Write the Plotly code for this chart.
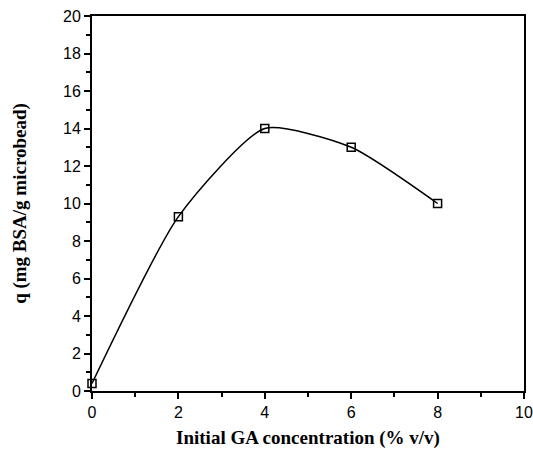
import plotly.graph_objects as go

ga_conc = [0, 2, 4, 6, 8]
q_values = [0.4, 9.3, 14.0, 13.0, 10.0]

fig = go.Figure()
fig.add_trace(go.Scatter(
    x=ga_conc, y=q_values, mode="lines+markers",
    line=dict(color="black", width=1.5, shape="spline", smoothing=0.6),
    marker=dict(symbol="square-open", size=8, color="black", line=dict(width=1.5)),
    showlegend=False, cliponaxis=False,
))

axis_common = dict(
    showline=True, linecolor="black", linewidth=2, mirror=True,
    ticks="outside", ticklen=6, tickwidth=2, tickcolor="black",
    showgrid=False, zeroline=False, automargin=False,
    tickfont=dict(family="Liberation Sans, Arial", size=16, color="black"),
    minor=dict(ticks="outside", ticklen=4, tickwidth=2, tickcolor="black", dtick=1, showgrid=False),
)

fig.update_xaxes(range=[0, 10], dtick=2, tick0=0,
                 title=dict(text="<b>Initial GA concentration (% v/v)</b>",
                            font=dict(family="Liberation Serif, Times New Roman", size=19, color="black"),
                            standoff=12),
                 **axis_common)
fig.update_yaxes(range=[0, 20], dtick=2, tick0=0,
                 title=dict(text="<b>q (mg BSA/g microbead)</b>",
                            font=dict(family="Liberation Serif, Times New Roman", size=19, color="black"),
                            standoff=31),
                 **axis_common)

fig.update_layout(
    width=533, height=449,
    margin=dict(l=92, r=9, t=16, b=58),
    plot_bgcolor="white", paper_bgcolor="white",
)

fig.write_html("out.html")
